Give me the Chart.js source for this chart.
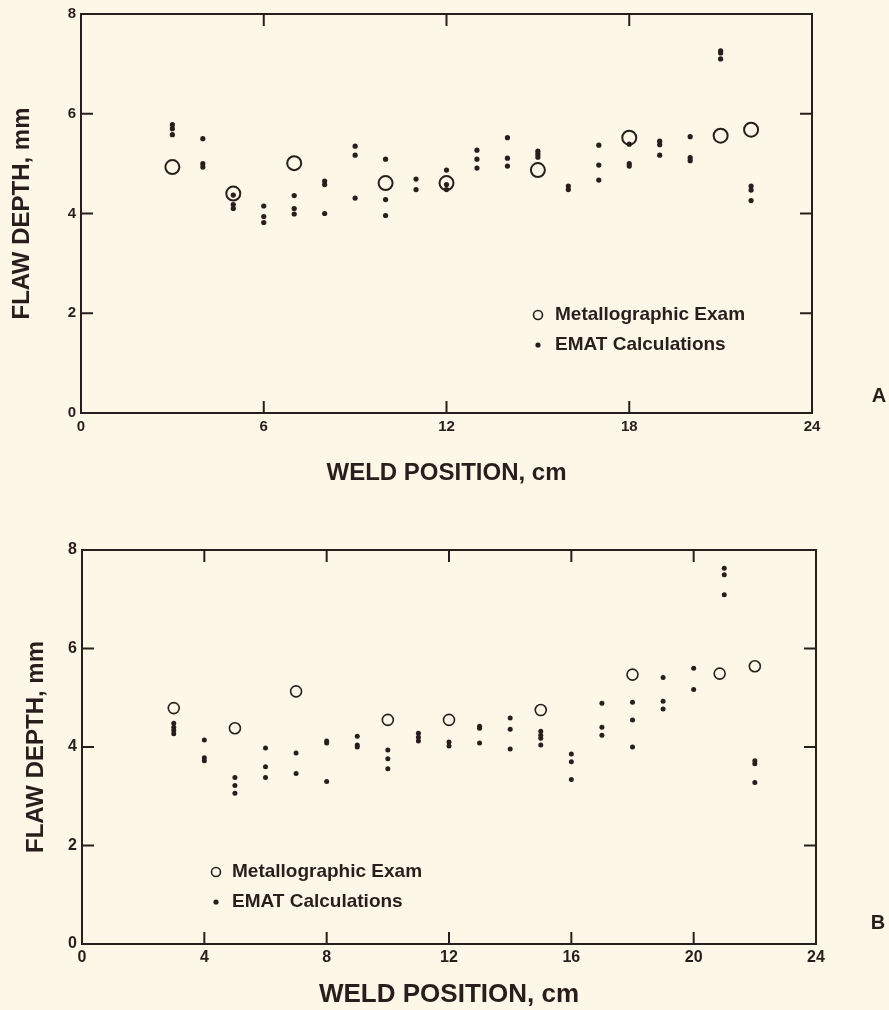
<!DOCTYPE html>
<html>
<head>
<meta charset="utf-8">
<script src="https://cdn.jsdelivr.net/npm/chart.js@4.4.1/dist/chart.umd.min.js"></script>
<style>
  html, body { margin: 0; padding: 0; background: #fcf7e7; }
  #wrap { position: relative; width: 889px; height: 1010px; overflow: hidden; }
  canvas { position: absolute; left: 0; }
  #cA { top: 0; }
  #cB { top: 490px; }
</style>
</head>
<body>
<div id="wrap">
  <canvas id="cA" width="889" height="490"></canvas>
  <canvas id="cB" width="889" height="520"></canvas>
</div>
<script>
// ---------- DATA ----------
const legendLabels = ["Metallographic Exam", "EMAT Calculations"];
const xTitle = "WELD POSITION, cm";
const yTitle = "FLAW DEPTH, mm";

// Panel A
const metalA_x = [3, 5, 7, 10, 12, 15, 18, 21, 22];
const metalA_y = [4.93, 4.40, 5.01, 4.61, 4.61, 4.87, 5.52, 5.56, 5.68];
const ematA_x = [3,3,3, 4,4,4, 5,5,5, 6,6,6, 7,7,7, 8,8,8, 9,9,9, 10,10,10, 11,11,
                 12,12,12, 13,13,13, 14,14,14, 15,15,15, 16,16, 17,17,17, 18,18,18,
                 19,19,19, 20,20,20, 21,21,21, 22,22,22];
const ematA_y = [5.78,5.70,5.58, 5.50,5.00,4.93, 4.37,4.18,4.10, 4.15,3.94,3.82,
                 4.36,4.10,3.99, 4.65,4.58,4.00, 5.35,5.17,4.31, 5.09,4.28,3.96, 4.69,4.48,
                 4.87,4.58,4.48, 5.27,5.09,4.91, 5.52,5.11,4.95, 5.25,5.19,5.13, 4.55,4.48,
                 5.37,4.97,4.67, 5.39,5.00,4.95, 5.45,5.38,5.17, 5.54,5.12,5.06,
                 7.26,7.22,7.10, 4.55,4.47,4.26];

// Panel B
const metalB_x = [3, 5, 7, 10, 12, 15, 18, 20.85, 22];
const metalB_y = [4.79, 4.38, 5.13, 4.55, 4.55, 4.75, 5.47, 5.49, 5.64];
const ematB_x = [3,3,3,3, 4,4,4, 5,5,5, 6,6,6, 7,7, 8,8,8, 9,9,9, 10,10,10, 11,11,11,
                 12,12, 13,13,13, 14,14,14, 15,15,15,15, 16,16,16, 17,17,17, 18,18,18,
                 19,19,19, 20,20, 21,21,21, 22,22,22];
const ematB_y = [4.48,4.40,4.34,4.27, 4.14,3.78,3.72, 3.38,3.22,3.06, 3.98,3.60,3.38,
                 3.88,3.46, 4.12,4.08,3.30, 4.22,4.04,4.00, 3.94,3.76,3.56, 4.28,4.20,4.12,
                 4.10,4.02, 4.42,4.38,4.08, 4.59,4.36,3.96, 4.32,4.24,4.18,4.04,
                 3.86,3.70,3.34, 4.89,4.40,4.24, 4.91,4.55,4.00, 5.41,4.93,4.77,
                 5.60,5.17, 7.63,7.50,7.09, 3.72,3.66,3.28];

const yMin = 0, yMax = 8, yStep = 2;
const xMin = 0, xMax = 24;
const xStepA = 6, xStepB = 4;

// ---------- STYLE ----------
const INK = "#2a1d1d";
const FONT = "'Liberation Sans', Arial, Helvetica, sans-serif";

const pts = (xs, ys) => xs.map((x, i) => ({ x: x, y: ys[i] }));

const framePlugin = {
  id: 'frameTicks',
  afterDatasetsDraw(chart, args, o) {
    const { ctx, chartArea: a, scales: { x, y } } = chart;
    ctx.save();
    ctx.strokeStyle = INK;
    ctx.lineWidth = o.lw;
    ctx.lineCap = 'butt';
    const L = o.tick;
    const seg = (x1, y1, x2, y2) => { ctx.beginPath(); ctx.moveTo(x1, y1); ctx.lineTo(x2, y2); ctx.stroke(); };
    ctx.strokeRect(a.left, a.top, a.right - a.left, a.bottom - a.top);
    x.ticks.forEach(t => {
      if (t.value <= x.min || t.value >= x.max) return;
      const p = x.getPixelForValue(t.value);
      seg(p, a.bottom, p, a.bottom - L);
      seg(p, a.top, p, a.top + L);
    });
    y.ticks.forEach(t => {
      if (t.value <= y.min || t.value >= y.max) return;
      const p = y.getPixelForValue(t.value);
      seg(a.left, p, a.left + L, p);
      seg(a.right, p, a.right - L, p);
    });
    // legend
    const lx = a.left + o.legend.dx, ly = a.top + o.legend.dy;
    ctx.lineWidth = 1.6;
    ctx.beginPath(); ctx.arc(lx, ly, o.legend.r, 0, Math.PI * 2); ctx.stroke();
    ctx.fillStyle = INK;
    ctx.beginPath(); ctx.arc(lx, ly + o.legend.gap, 2.6, 0, Math.PI * 2); ctx.fill();
    ctx.font = "bold " + o.legend.size + "px " + FONT;
    ctx.textBaseline = 'middle';
    ctx.textAlign = 'left';
    ctx.fillText(legendLabels[0], lx + o.legend.tx, ly);
    ctx.fillText(legendLabels[1], lx + o.legend.tx, ly + o.legend.gap);
    // panel letter
    ctx.font = "bold 20px " + FONT;
    ctx.textAlign = 'center';
    ctx.fillText(o.letter.text, o.letter.x, o.letter.y);
    ctx.restore();
  }
};

function makeChart(id, mx, my, ex, ey, cfg) {
  return new Chart(document.getElementById(id), {
    type: 'scatter',
    data: {
      datasets: [
        { label: legendLabels[1], data: pts(ex, ey), pointStyle: 'circle',
          pointRadius: cfg.dotR, backgroundColor: INK, borderWidth: 0 },
        { label: legendLabels[0], data: pts(mx, my), pointStyle: 'circle',
          pointRadius: cfg.circR, backgroundColor: 'rgba(0,0,0,0)', borderColor: INK,
          borderWidth: cfg.circW }
      ]
    },
    options: {
      responsive: false,
      devicePixelRatio: 1,
      animation: false,
      events: [],
      layout: { padding: { left: 0, right: cfg.padR, top: cfg.padT, bottom: 0 } },
      plugins: {
        legend: { display: false },
        tooltip: { enabled: false },
        frameTicks: cfg.frame
      },
      scales: {
        x: {
          type: 'linear', min: xMin, max: xMax,
          grid: { display: false, drawTicks: false },
          border: { display: false },
          ticks: { stepSize: cfg.xStep, color: INK, padding: cfg.xTickPad,
                   font: { family: FONT, size: cfg.tickSize, weight: 'bold' },
                   maxRotation: 0, autoSkip: false },
          title: { display: true, text: xTitle, color: INK,
                   font: { family: FONT, size: cfg.xTitleSize, weight: 'bold' },
                   padding: { top: 0, bottom: cfg.xTitlePad } },
          afterFit: s => { s.height = cfg.xH; }
        },
        y: {
          type: 'linear', min: yMin, max: yMax,
          grid: { display: false, drawTicks: false },
          border: { display: false },
          ticks: { stepSize: yStep, color: INK, padding: cfg.yTickPad,
                   font: { family: FONT, size: cfg.tickSize, weight: 'bold' } },
          title: { display: true, text: yTitle, color: INK,
                   font: { family: FONT, size: 24, weight: 'bold' },
                   padding: { top: cfg.yTitlePad, bottom: 0 } },
          afterFit: s => { s.width = cfg.yW; }
        }
      }
    },
    plugins: [framePlugin]
  });
}

makeChart('cA', metalA_x, metalA_y, ematA_x, ematA_y, {
  dotR: 2.6, circR: 7, circW: 2,
  padR: 889 - 812, padT: 13, xH: 77, yW: 81,
  xStep: xStepA, tickSize: 15, xTickPad: 5, yTickPad: 5,
  xTitleSize: 24, xTitlePad: 2, yTitlePad: 8,
  frame: { lw: 2, tick: 12,
           legend: { dx: 538 - 81, dy: 314 - 13, r: 4.5, gap: 30, tx: 17, size: 19 },
           letter: { text: 'A', x: 879, y: 396 } }
});

makeChart('cB', metalB_x, metalB_y, ematB_x, ematB_y, {
  dotR: 2.5, circR: 5.5, circW: 1.6,
  padR: 889 - 816, padT: 60, xH: 66, yW: 82,
  xStep: xStepB, tickSize: 16, xTickPad: 4, yTickPad: 5,
  xTitleSize: 26, xTitlePad: 0, yTitlePad: 22,
  frame: { lw: 2, tick: 12,
           legend: { dx: 216 - 82, dy: 382 - 60, r: 4.5, gap: 30, tx: 16, size: 19 },
           letter: { text: 'B', x: 878, y: 433 } }
});
</script>
</body>
</html>
